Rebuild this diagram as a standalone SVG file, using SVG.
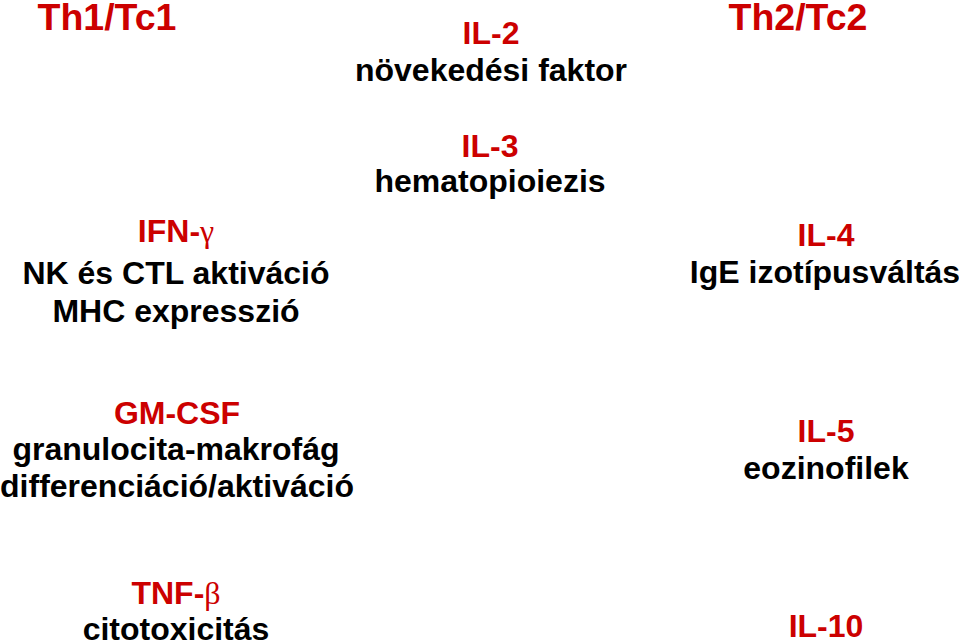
<svg xmlns="http://www.w3.org/2000/svg" width="959" height="643" viewBox="0 0 959 643">
<style>
text{font-family:"Liberation Sans",Arial,sans-serif;font-weight:bold;font-size:32px;text-anchor:middle;fill:#000}
.r{fill:#cc0000}
.h{font-size:37.5px}
.g{font-family:"Liberation Serif","DejaVu Serif",serif;font-weight:normal}
</style>
<rect width="959" height="643" fill="#fff"/>
<g id="th1"><text class="r h" x="107" y="30">Th1/Tc1</text></g>
<g id="th2"><text class="r h" x="798" y="30">Th2/Tc2</text></g>
<g id="il2"><text class="r" x="491" y="44">IL-2</text><text x="491" y="81">növekedési faktor</text></g>
<g id="il3"><text class="r" x="490" y="157">IL-3</text><text x="490" y="192">hematopioiezis</text></g>
<g id="ifn"><text class="r" x="176" y="242">IFN-<tspan class="g">γ</tspan></text><text x="176" y="284">NK és CTL aktiváció</text><text x="176" y="322">MHC expresszió</text></g>
<g id="il4"><text class="r" x="826" y="246">IL-4</text><text x="825" y="283">IgE izotípusváltás</text></g>
<g id="gmcsf"><text class="r" x="177" y="424">GM-CSF</text><text x="176" y="460">granulocita-makrofág</text><text x="177" y="497">differenciáció/aktiváció</text></g>
<g id="il5"><text class="r" x="826" y="442">IL-5</text><text x="826" y="479">eozinofilek</text></g>
<g id="tnf"><text class="r" x="176" y="604">TNF-<tspan class="g">β</tspan></text><text x="176" y="640">citotoxicitás</text></g>
<g id="il10"><text class="r" x="826" y="637">IL-10</text></g>
</svg>
